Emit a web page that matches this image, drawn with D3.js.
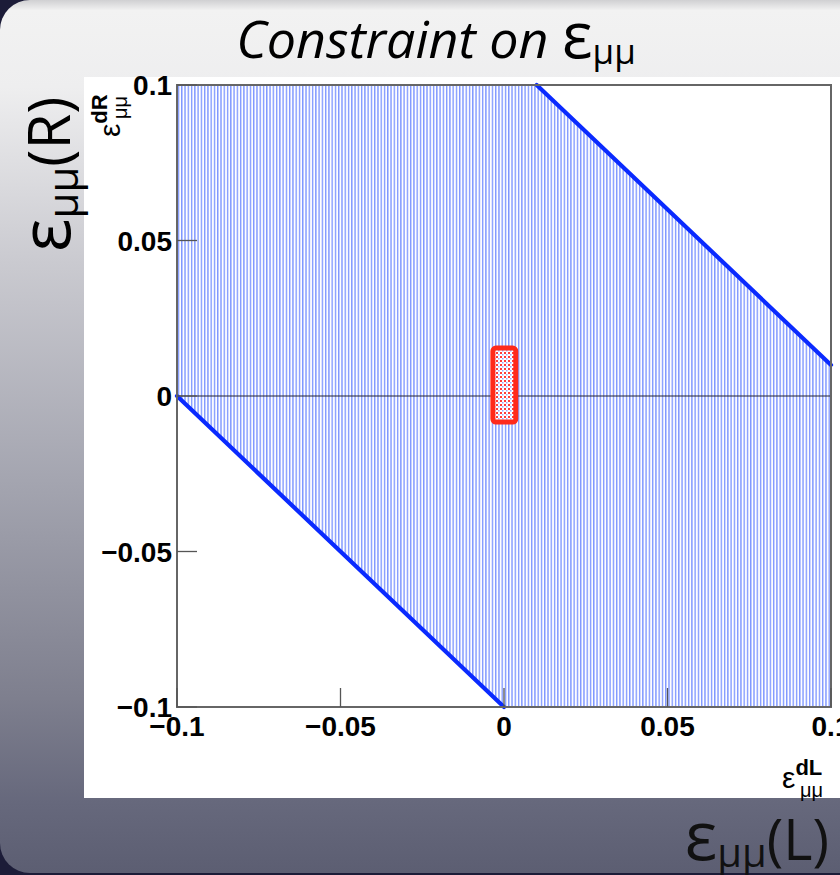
<!DOCTYPE html>
<html><head><meta charset="utf-8">
<script src="https://cdn.jsdelivr.net/npm/d3@7"></script>
<style>html,body{margin:0;padding:0;background:#1c1c38;}svg{display:block;}</style>
</head><body>
<script>
const xTicks = [-0.1, -0.05, 0, 0.05, 0.1];
const yTicks = [-0.1, -0.05, 0, 0.05, 0.1];
const tickLabels = ["\u22120.1", "\u22120.05", "0", "0.05", "0.1"];
const allowedRegion = [[-0.1, 0.1], [0.01, 0.1], [0.1, 0.01], [0.1, -0.1], [0, -0.1], [-0.1, 0]];
const upperBound = [[0.01, 0.1], [0.1, 0.01]];
const lowerBound = [[-0.1, 0], [0, -0.1]];
const bestFitX = [-0.0034, 0.0036];
const bestFitY = [-0.0084, 0.0154];

const W = 840, H = 875;
const svg = d3.select("body").append("svg").attr("width", W).attr("height", H);
const defs = svg.append("defs");

const bg = defs.append("linearGradient").attr("id", "bg").attr("x1", 0).attr("y1", 0).attr("x2", 0).attr("y2", 1);
[[0, "#d0d0d2"], [0.012, "#f2f2f2"], [0.1, "#eeeeef"], [0.3, "#cacad0"], [0.55, "#a4a5b0"], [0.8, "#7e7f8e"], [0.92, "#66687c"], [1, "#5c5e72"]]
  .forEach(([o, c]) => bg.append("stop").attr("offset", o).attr("stop-color", c));

svg.append("rect").attr("x", 0).attr("y", 0).attr("width", W).attr("height", H).attr("fill", "#1c1c38");
svg.append("rect").attr("x", 0).attr("y", 0).attr("width", W + 40).attr("height", H - 2).attr("rx", 30).attr("fill", "url(#bg)");

// white canvas
svg.append("rect").attr("x", 84).attr("y", 77).attr("width", W - 84).attr("height", 721).attr("fill", "#ffffff");

const x = d3.scaleLinear().domain([-0.1, 0.1]).range([177, 831]);
const y = d3.scaleLinear().domain([-0.1, 0.1]).range([707, 85]);

const hatch = defs.append("pattern").attr("id", "hatch").attr("patternUnits", "userSpaceOnUse")
  .attr("width", 3.27).attr("height", 10).attr("x", x(-0.1));
hatch.append("rect").attr("width", 3.27).attr("height", 10).attr("fill", "#ffffff");
hatch.append("rect").attr("x", 0.8).attr("width", 1.4).attr("height", 10).attr("fill", "#7f97ff");

const dots = defs.append("pattern").attr("id", "dots").attr("patternUnits", "userSpaceOnUse")
  .attr("width", 4).attr("height", 4);
dots.append("rect").attr("width", 4).attr("height", 4).attr("fill", "#ffffff");
dots.append("rect").attr("width", 2).attr("height", 2).attr("fill", "#ff3b3b");
dots.append("rect").attr("x", 2).attr("y", 2).attr("width", 1.5).attr("height", 1.5).attr("fill", "#9aa6ff");

const line = d3.line().x(d => x(d[0])).y(d => y(d[1]));

svg.append("path").attr("d", line(allowedRegion) + "Z").attr("fill", "url(#hatch)");

// zero line
svg.append("line").attr("x1", x(-0.1)).attr("x2", x(0.1)).attr("y1", y(0)).attr("y2", y(0))
  .attr("stroke", "#222233").attr("stroke-width", 1.1);

// bounds
[upperBound, lowerBound].forEach(b => svg.append("path").attr("d", line(b))
  .attr("fill", "none").attr("stroke", "#0a2aff").attr("stroke-width", 4.2).attr("stroke-linecap", "round"));

// best fit box
svg.append("rect").attr("x", x(bestFitX[0])).attr("y", y(bestFitY[1]))
  .attr("width", x(bestFitX[1]) - x(bestFitX[0])).attr("height", y(bestFitY[0]) - y(bestFitY[1]))
  .attr("rx", 3).attr("fill", "url(#dots)").attr("stroke", "#ff2a1a").attr("stroke-width", 5);

// frame
svg.append("rect").attr("x", 177).attr("y", 85).attr("width", 654).attr("height", 622)
  .attr("fill", "none").attr("stroke", "#666666").attr("stroke-width", 2);

// ticks (inside)
const gY = svg.append("g");
yTicks.forEach(t => gY.append("line").attr("x1", x(-0.1)).attr("x2", x(-0.1) + 20).attr("y1", y(t)).attr("y2", y(t))
  .attr("stroke", "#555").attr("stroke-width", 1.3));
const gX = svg.append("g");
xTicks.forEach(t => gX.append("line").attr("x1", x(t)).attr("x2", x(t)).attr("y1", y(-0.1)).attr("y2", y(-0.1) - 19)
  .attr("stroke", "#555").attr("stroke-width", 1.3));

const tf = "'Liberation Sans', Arial, sans-serif";
yTicks.forEach((t, i) => svg.append("text").attr("x", 172).attr("y", y(t) + 10)
  .attr("text-anchor", "end").attr("font-family", tf).attr("font-weight", "bold").attr("font-size", 28)
  .attr("fill", "#000").text(tickLabels[i]));
xTicks.forEach((t, i) => svg.append("text").attr("x", x(t)).attr("y", 736)
  .attr("text-anchor", "middle").attr("font-family", tf).attr("font-weight", "bold").attr("font-size", 28)
  .attr("fill", "#000").text(tickLabels[i]));

// axis titles (ROOT style)
const xt = svg.append("text").attr("x", 782).attr("y", 788).attr("font-family", tf).attr("fill", "#000");
xt.append("tspan").attr("font-size", 30).text("\u03b5");
xt.append("tspan").attr("font-size", 22).attr("font-weight", "bold").attr("dy", -13).text("dL");
svg.append("text").attr("x", 800).attr("y", 797).attr("font-family", tf).attr("font-size", 20).attr("fill", "#000").text("\u03bc\u03bc");

const yt = svg.append("g").attr("transform", "translate(120,137) rotate(-90)");
const yt1 = yt.append("text").attr("x", 0).attr("y", 0).attr("font-family", tf).attr("fill", "#000");
yt1.append("tspan").attr("font-size", 30).text("\u03b5");
yt1.append("tspan").attr("font-size", 22).attr("font-weight", "bold").attr("dy", -13).text("dR");
yt.append("text").attr("x", 18).attr("y", 7).attr("font-family", tf).attr("font-size", 20).attr("fill", "#000").text("\u03bc\u03bc");

// slide title
const hf = "'Open Sans', Lato, sans-serif";
const title = svg.append("text").attr("x", 436).attr("y", 58).attr("text-anchor", "middle")
  .attr("font-family", hf).attr("font-style", "italic").attr("font-weight", 500).attr("font-size", 52).attr("fill", "#000");
title.append("tspan").text("Constraint on ");
title.append("tspan").attr("font-size", 64).attr("font-style", "normal").text("\u03b5");
title.append("tspan").attr("font-size", 35).attr("font-style", "normal").attr("dy", 6).text("\u03bc\u03bc");

const lr = svg.append("text").attr("transform", "translate(70,252) rotate(-90)")
  .attr("font-family", hf).attr("font-weight", 500).attr("font-size", 58).attr("fill", "#000");
lr.append("tspan").attr("font-size", 70).text("\u03b5");
lr.append("tspan").attr("font-size", 42).attr("dy", 8).text("\u03bc\u03bc");
lr.append("tspan").attr("dy", -8).text("(R)");

const ll = svg.append("text").attr("x", 829).attr("y", 860).attr("text-anchor", "end")
  .attr("font-family", hf).attr("font-weight", 500).attr("font-size", 56).attr("fill", "#111");
ll.append("tspan").attr("font-size", 68).text("\u03b5");
ll.append("tspan").attr("font-size", 40).attr("dy", 7).text("\u03bc\u03bc");
ll.append("tspan").attr("dy", -7).text("(L)");
</script>
</body></html>
